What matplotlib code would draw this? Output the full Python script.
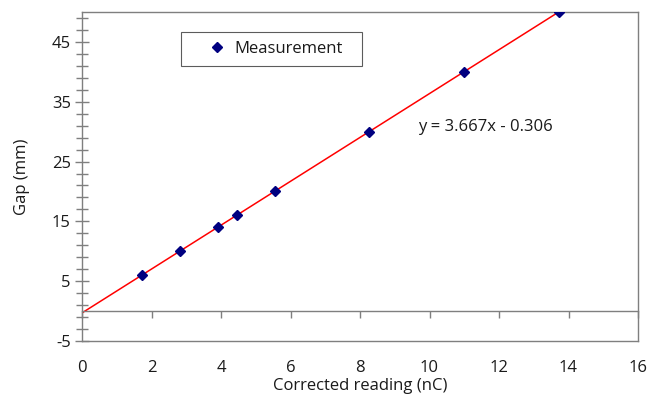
import matplotlib
matplotlib.use("Agg")
import matplotlib.pyplot as plt
from matplotlib.ticker import MultipleLocator, FixedLocator
import numpy as np

plt.rcParams['font.family'] = ['Open Sans', 'DejaVu Sans']
plt.rcParams['axes.unicode_minus'] = False

reading_nC = [1.72, 2.81, 3.90, 4.45, 5.54, 8.27, 10.99, 13.72]
gap_mm = [6, 10, 14, 16, 20, 30, 40, 50]
slope = 3.667
intercept = -0.306
fit_label = "y = 3.667x - 0.306"
series_label = "Measurement"
x_ticks = [0, 2, 4, 6, 8, 10, 12, 14, 16]
y_ticks = [-5, 5, 15, 25, 35, 45]

FS = 12
txt = '#1a1a1a'

fig = plt.figure(figsize=(6.62, 3.97), dpi=100)
ax = fig.add_axes([82/662, 1-341/397, 556/662, 329/397])

xs = np.array([0, max(reading_nC)])
ax.plot(xs, slope*xs + intercept, color='#ff0000', lw=1.1, zorder=2)
ax.plot(reading_nC, gap_mm, linestyle='none', marker='D', ms=5,
        color='#000080', label=series_label, zorder=3)

ax.set_xlim(0, 16)
ax.set_ylim(-5, 50)

gray = '#7f7f7f'
for s in ['left', 'right', 'top']:
    ax.spines[s].set_color(gray)
    ax.spines[s].set_linewidth(1.0)
ax.spines['bottom'].set_position(('data', 0))
ax.spines['bottom'].set_color(gray)
ax.spines['bottom'].set_linewidth(1.0)
ax.plot([0, 1], [0, 0], transform=ax.transAxes, color=gray, lw=1.0, clip_on=False, zorder=1)

ax.xaxis.set_major_locator(FixedLocator(x_ticks))
ax.yaxis.set_major_locator(FixedLocator(y_ticks))
ax.yaxis.set_minor_locator(MultipleLocator(2, offset=1))
ax.tick_params(axis='x', direction='out', length=5, width=1, color=gray, pad=30,
               labelsize=FS, labelcolor=txt)
ax.tick_params(axis='y', which='major', direction='inout', length=10, width=1, color=gray,
               labelsize=FS, labelcolor=txt, pad=3)
ax.tick_params(axis='y', which='minor', direction='inout', length=8, width=1, color=gray)

ax.set_xlabel("Corrected reading (nC)", fontsize=FS, color=txt)
ax.set_ylabel("Gap (mm)", fontsize=FS, color=txt)
ax.xaxis.set_label_coords(278/556, -(386-341)/329)
ax.yaxis.set_label_coords(-(82-22)/556, 0.5)
ax.xaxis.label.set_va('center')
ax.yaxis.label.set_va('center')

ax.text((418-82)/556, 1-(127-12)/329, fit_label, transform=ax.transAxes, fontsize=FS,
        color=txt, va='center', ha='left')

leg = ax.legend(loc='upper left', bbox_to_anchor=(99/556, 1-56/329, 181/556, 36/329),
                mode='expand', fontsize=FS,
                frameon=True, fancybox=False, edgecolor='#333333', borderpad=0.55,
                handletextpad=-0.55, handlelength=3.2, borderaxespad=0)
leg.get_frame().set_linewidth(0.8)
for t in leg.get_texts():
    t.set_color(txt)

fig.savefig("out.png", dpi=100)
